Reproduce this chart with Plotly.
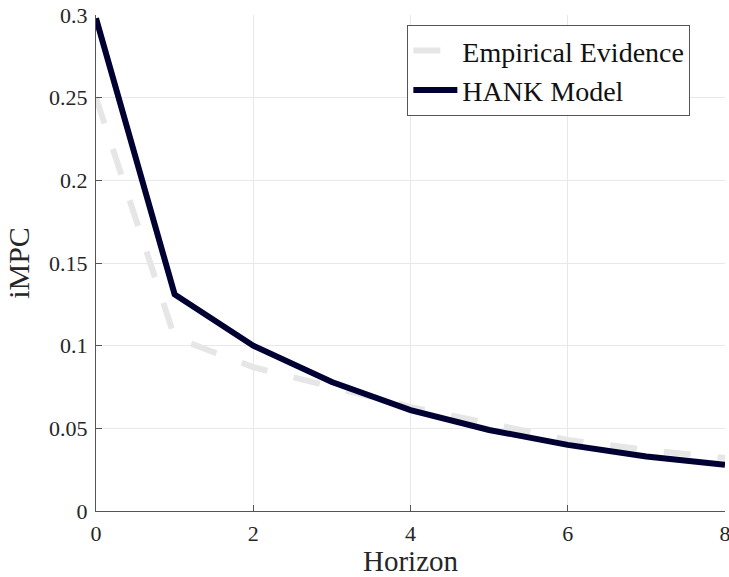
import plotly.graph_objects as go

horizon = [0, 1, 2, 3, 4, 5, 6, 7, 8]
empirical = [0.250, 0.105, 0.087, 0.075, 0.063, 0.053, 0.043, 0.037, 0.032]
hank = [0.298, 0.131, 0.100, 0.078, 0.061, 0.049, 0.040, 0.033, 0.028]

x_ticks = [0, 2, 4, 6, 8]
y_ticks = [0, 0.05, 0.1, 0.15, 0.2, 0.25, 0.3]
y_tick_text = ["0", "0.05", "0.1", "0.15", "0.2", "0.25", "0.3"]

FONT = "Liberation Serif, DejaVu Serif"

fig = go.Figure()
fig.add_trace(go.Scatter(
    x=horizon, y=empirical, mode="lines", name="Empirical Evidence",
    line=dict(color="#e6e6e6", width=6, dash="27px,27px"),
))
fig.add_trace(go.Scatter(
    x=horizon, y=hank, mode="lines", name="HANK Model",
    line=dict(color="#000033", width=6),
))

axis_common = dict(
    showgrid=True, gridcolor="#e8e8e8", gridwidth=1,
    zeroline=False, showline=True, linecolor="#555555", linewidth=1,
    ticks="inside", ticklen=6, tickcolor="#555555",
    tickfont=dict(family=FONT, size=22, color="#262626"),
    mirror=False, ticklabeloverflow="allow", automargin=False,
)

fig.update_layout(
    width=729, height=577,
    margin=dict(l=96, r=4, t=15, b=66),
    paper_bgcolor="white", plot_bgcolor="white",
    font=dict(family=FONT),
    showlegend=True,
    legend=dict(
        x=0.495, y=0.98, xanchor="left", yanchor="top",
        bgcolor="white", bordercolor="#555555", borderwidth=1,
        font=dict(family=FONT, size=28, color="#111111"),
        tracegroupgap=0, itemwidth=44,
    ),
    xaxis=dict(
        range=[0, 8], tickvals=x_ticks, ticktext=[str(v) for v in x_ticks],
        ticklabelstandoff=3,
        title=dict(text="Horizon", font=dict(family=FONT, size=29, color="#262626"), standoff=13),
        **axis_common,
    ),
    yaxis=dict(
        range=[0, 0.3], tickvals=y_ticks, ticktext=y_tick_text,
        ticklabelstandoff=3,
        title=dict(text="iMPC", font=dict(family=FONT, size=30, color="#262626"), standoff=10),
        **axis_common,
    ),
)

fig.write_html("out.html")
